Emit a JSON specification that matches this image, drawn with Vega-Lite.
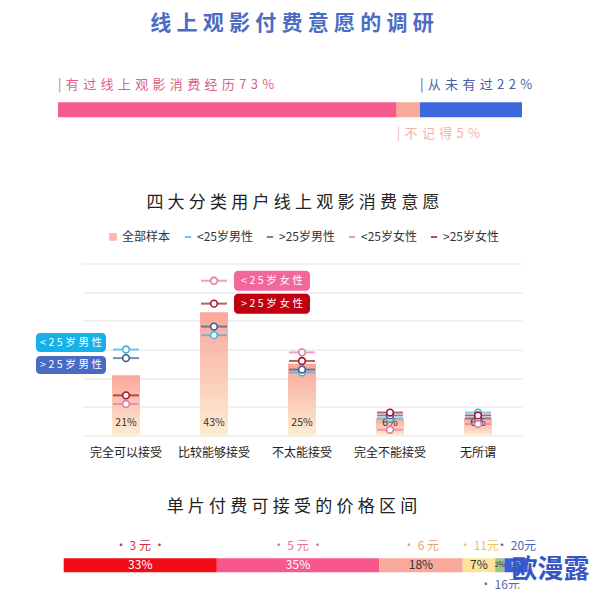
{
  "$schema": "https://vega.github.io/schema/vega-lite/v6.json",
  "padding": {"left": 5, "right": 5, "top": 12, "bottom": 0},
  "background": "white",
  "config": {"view": {"stroke": null}, "font": "Noto Sans CJK SC"},
  "datasets": {
    "top": [
      {"name": "有过线上观影消费经历", "pct": 73, "order": 1},
      {"name": "不记得", "pct": 5, "order": 2},
      {"name": "从未有过", "pct": 22, "order": 3}
    ],
    "bars": [
      {"cat": "完全可以接受", "pct": 21},
      {"cat": "比较能够接受", "pct": 43},
      {"cat": "不太能接受", "pct": 25},
      {"cat": "完全不能接受", "pct": 6},
      {"cat": "无所谓", "pct": 6}
    ],
    "markers": [
      {"cat": "完全可以接受", "series": "<25岁男性", "pct": 30},
      {"cat": "完全可以接受", "series": ">25岁男性", "pct": 27},
      {"cat": "完全可以接受", "series": "<25岁女性", "pct": 11},
      {"cat": "完全可以接受", "series": ">25岁女性", "pct": 14},
      {"cat": "比较能够接受", "series": "<25岁男性", "pct": 35},
      {"cat": "比较能够接受", "series": ">25岁男性", "pct": 38},
      {"cat": "比较能够接受", "series": "<25岁女性", "pct": 54},
      {"cat": "比较能够接受", "series": ">25岁女性", "pct": 46},
      {"cat": "不太能接受", "series": "<25岁男性", "pct": 22},
      {"cat": "不太能接受", "series": ">25岁男性", "pct": 23},
      {"cat": "不太能接受", "series": "<25岁女性", "pct": 29},
      {"cat": "不太能接受", "series": ">25岁女性", "pct": 26},
      {"cat": "完全不能接受", "series": "<25岁男性", "pct": 6},
      {"cat": "完全不能接受", "series": ">25岁男性", "pct": 7},
      {"cat": "完全不能接受", "series": "<25岁女性", "pct": 2},
      {"cat": "完全不能接受", "series": ">25岁女性", "pct": 8},
      {"cat": "无所谓", "series": "<25岁男性", "pct": 8},
      {"cat": "无所谓", "series": ">25岁男性", "pct": 6},
      {"cat": "无所谓", "series": "<25岁女性", "pct": 4},
      {"cat": "无所谓", "series": ">25岁女性", "pct": 7}
    ],
    "price": [
      {"price": "3元", "pct": 33, "order": 1},
      {"price": "5元", "pct": 35, "order": 2},
      {"price": "6元", "pct": 18, "order": 3},
      {"price": "11元", "pct": 7, "order": 4},
      {"price": "16元", "pct": 2, "order": 5},
      {"price": "20元", "pct": 5, "order": 6}
    ],
    "mark": [{"wm": "欧漫露"}]
  },
  "bounds": "flush",
  "spacing": 100.5,
  "resolve": {
    "scale": {"color": "independent", "shape": "independent"},
    "legend": {"color": "independent", "shape": "independent"}
  },
  "vconcat": [
    {
      "width": 584,
      "height": 89.5,
      "title": {"text": "线\u2005上\u2005观\u2005影\u2005付\u2005费\u2005意\u2005愿\u2005的\u2005调\u2005研", "fontSize": 21, "fontWeight": "bold", "color": "#4a6cc2", "anchor": "middle", "offset": 39.5, "dx": -5},
      "data": {"name": "top"},
      "transform": [
        {"stack": "pct", "groupby": [], "sort": [{"field": "order", "order": "ascending"}], "as": ["start", "end"]},
        {"calculate": "'|' + replace(datum.name + datum.pct + '%', regexp('(.)', 'g'), '\u2004$1')", "as": "label"},
        {"calculate": "datum.pct < 10 ? 'below' : 'above'", "as": "row"}
      ],
      "encoding": {
        "y": {"field": "row", "type": "nominal", "scale": {"domain": ["above", "bar", "below"], "paddingInner": 0, "paddingOuter": 0.3265, "align": 0}, "axis": null}
      },
      "layer": [
        {
          "mark": {"type": "bar", "height": 15},
          "encoding": {
            "x": {"field": "start", "type": "quantitative", "scale": {"domain": [0, 100], "range": [53, 517], "nice": false, "zero": false}, "axis": null},
            "x2": {"field": "end"},
            "y": {"datum": "bar", "type": "nominal"},
            "color": {"field": "name", "type": "nominal", "scale": {"domain": ["有过线上观影消费经历", "不记得", "从未有过"], "range": ["#f75b8c", "#f9aa9b", "#3f68df"]}, "legend": null}
          }
        },
        {
          "mark": {"type": "text", "align": "left", "baseline": "middle", "fontSize": 13},
          "encoding": {
            "x": {"field": "start", "type": "quantitative"},
            "text": {"field": "label"},
            "color": {"field": "name", "type": "nominal", "scale": {"domain": ["有过线上观影消费经历", "不记得", "从未有过"], "range": ["#dc5f8b", "#f1b3aa", "#4b5c9f"]}, "legend": null}
          }
        }
      ],
      "resolve": {"scale": {"color": "independent"}}
    },
    {
      "width": 584,
      "height": 172,
      "title": {"text": "四\u2005大\u2005分\u2005类\u2005用\u2005户\u2005线\u2005上\u2005观\u2005影\u2005消\u2005费\u2005意\u2005愿", "fontSize": 17, "fontWeight": "normal", "color": "#222222", "anchor": "middle", "offset": 19, "dx": -4},
      "encoding": {
        "x": {"field": "cat", "type": "nominal", "sort": null,
          "scale": {"domain": ["完全可以接受", "比较能够接受", "不太能接受", "完全不能接受", "无所谓"], "range": [77, 517], "paddingInner": 0, "paddingOuter": 0},
          "axis": {"title": null, "ticks": false, "domain": false, "labelAngle": 0, "labelFontSize": 12, "labelColor": "#222222", "labelPadding": 12}},
        "y": {"field": "pct", "type": "quantitative", "scale": {"domain": [0, 60], "nice": false},
          "axis": {"title": null, "values": [0, 10, 20, 30, 40, 50, 60], "labels": false, "ticks": false, "domain": false, "grid": true, "gridColor": "#e3e3e3"}}
      },
      "layer": [
        {
          "data": {"name": "bars"},
          "mark": {"type": "bar", "width": 28, "color": {"gradient": "linear", "x1": 0, "y1": 0, "x2": 0, "y2": 1, "stops": [{"offset": 0, "color": "#f9a79b"}, {"offset": 1, "color": "#fdedd2"}]}}
        },
        {
          "data": {"name": "bars"},
          "transform": [{"calculate": "datum.pct + '%'", "as": "lab"}],
          "mark": {"type": "text", "baseline": "middle", "dy": -13, "fontSize": 10.5, "color": "#333333"},
          "encoding": {"y": {"datum": 0}, "text": {"field": "lab"}}
        },
        {
          "data": {"name": "markers"},
          "mark": {"type": "tick", "orient": "horizontal", "size": 26, "thickness": 2},
          "encoding": {"color": {"field": "series", "type": "nominal",
            "scale": {"domain": ["全部样本", "<25岁男性", ">25岁男性", "<25岁女性", ">25岁女性"], "range": ["#f9bba8", "#3db4dc", "#3e5c8e", "#e27ba2", "#a51426"]},
            "legend": {"title": null, "orient": "none", "legendX": 102, "legendY": -33, "direction": "horizontal", "columns": 5, "labelFontSize": 12, "labelColor": "#333333", "symbolSize": 40, "columnPadding": 10, "labelOffset": 3, "symbolStrokeWidth": 1.5, "symbolOpacity": 1, "symbolFillColor": "#f9c2ae"}}}
        },
        {
          "data": {"name": "markers"},
          "mark": {"type": "point", "shape": "circle", "filled": false, "fill": "white", "size": 45, "strokeWidth": 1.6, "opacity": 1},
          "encoding": {"color": {"field": "series", "type": "nominal",
            "legend": {"title": null, "orient": "none", "legendX": 102, "legendY": -33, "direction": "horizontal", "columns": 5, "labelFontSize": 12, "labelColor": "#333333", "symbolSize": 40, "columnPadding": 10, "labelOffset": 3, "symbolStrokeWidth": 1.5, "symbolOpacity": 1, "symbolFillColor": "#f9c2ae"}}}
        },
        {
          "data": {"name": "markers"},
          "mark": {"type": "point", "filled": false, "opacity": 0},
          "encoding": {
            "color": {"field": "series", "type": "nominal",
              "legend": {"title": null, "orient": "none", "legendX": 102, "legendY": -33, "direction": "horizontal", "columns": 5, "labelFontSize": 12, "labelColor": "#333333", "symbolSize": 40, "columnPadding": 10, "labelOffset": 3, "symbolStrokeWidth": 1.5, "symbolOpacity": 1, "symbolFillColor": "#f9c2ae"}},
            "shape": {"field": "series", "type": "nominal",
              "scale": {"domain": ["全部样本", "<25岁男性", ">25岁男性", "<25岁女性", ">25岁女性"], "range": ["square", "stroke", "stroke", "stroke", "stroke"]},
              "legend": {"title": null, "orient": "none", "legendX": 102, "legendY": -33, "direction": "horizontal", "columns": 5, "labelFontSize": 12, "labelColor": "#333333", "symbolSize": 40, "columnPadding": 10, "labelOffset": 3, "symbolStrokeWidth": 1.5, "symbolOpacity": 1, "symbolFillColor": "#f9c2ae"}}
          }
        },
        {
          "data": {"name": "markers"},
          "transform": [
            {"filter": "datum.cat == '完全可以接受' && datum.series == '<25岁男性'"},
            {"calculate": "replace(datum.series, regexp('(.)(?!$)', 'g'), '$1\u2005')", "as": "lab"}
          ],
          "layer": [
            {"mark": {"type": "rect", "width": 70, "height": 19, "cornerRadius": 4, "xOffset": -55, "yOffset": -7, "color": "#17b1ea"}},
            {"mark": {"type": "text", "xOffset": -55, "yOffset": -7, "color": "white", "fontSize": 10.5, "baseline": "middle"}, "encoding": {"text": {"field": "lab"}}}
          ]
        },
        {
          "data": {"name": "markers"},
          "transform": [
            {"filter": "datum.cat == '完全可以接受' && datum.series == '>25岁男性'"},
            {"calculate": "replace(datum.series, regexp('(.)(?!$)', 'g'), '$1\u2005')", "as": "lab"}
          ],
          "layer": [
            {"mark": {"type": "rect", "width": 70, "height": 18, "cornerRadius": 4, "xOffset": -55, "yOffset": 7, "color": "#4a6bc3"}},
            {"mark": {"type": "text", "xOffset": -55, "yOffset": 7, "color": "white", "fontSize": 10.5, "baseline": "middle"}, "encoding": {"text": {"field": "lab"}}}
          ]
        },
        {
          "data": {"name": "markers"},
          "transform": [
            {"filter": "datum.cat == '比较能够接受' && (datum.series == '<25岁女性' || datum.series == '>25岁女性')"},
            {"calculate": "replace(datum.series, regexp('(.)(?!$)', 'g'), '$1\u2005')", "as": "lab"}
          ],
          "layer": [
            {"mark": {"type": "rect", "width": 76, "height": 20, "cornerRadius": 4, "xOffset": 58},
             "encoding": {"color": {"condition": {"test": "datum.series == '<25岁女性'", "value": "#f2689c"}, "value": "#c0000f"}}},
            {"mark": {"type": "text", "xOffset": 58, "color": "white", "fontSize": 10.5, "baseline": "middle"}, "encoding": {"text": {"field": "lab"}}}
          ]
        }
      ]
    },
    {
      "width": 584,
      "height": 58.5,
      "title": {"text": "单\u2005片\u2005付\u2005费\u2005可\u2005接\u2005受\u2005的\u2005价\u2005格\u2005区\u2005间", "fontSize": 17, "fontWeight": "normal", "color": "#222222", "anchor": "middle", "offset": 20, "dx": -5},
      "encoding": {
        "y": {"field": "row", "type": "nominal", "scale": {"domain": ["above", "bar", "below"], "paddingInner": 0, "paddingOuter": 0}, "axis": null}
      },
      "layer": [
        {
          "data": {"name": "price"},
          "transform": [
            {"stack": "pct", "groupby": [], "sort": [{"field": "order", "order": "ascending"}], "as": ["start", "end"]},
            {"calculate": "(datum.start + datum.end) / 2", "as": "mid"},
            {"calculate": "datum.pct + '%'", "as": "plab"},
            {"calculate": "'• ' + (datum.pct >= 10 ? replace(datum.price, regexp('(.)(?!$)', 'g'), '$1 ') : datum.price) + (datum.pct >= 30 ? ' •' : '')", "as": "label"},
            {"calculate": "datum.pct < 3 ? 'below' : 'above'", "as": "row"}
          ],
          "layer": [
            {
              "mark": {"type": "bar", "height": 14},
              "encoding": {
                "x": {"field": "start", "type": "quantitative", "scale": {"domain": [0, 100], "range": [58.7, 522.7], "nice": false, "zero": false}, "axis": null},
                "x2": {"field": "end"},
                "y": {"datum": "bar", "type": "nominal"},
                "color": {"field": "price", "type": "nominal", "sort": null, "scale": {"domain": ["3元", "5元", "6元", "11元", "16元", "20元"], "range": ["#ef0c14", "#f7578b", "#f9a99b", "#fce29a", "#9cc58a", "#3a5dd6"]}, "legend": null}
              }
            },
            {
              "mark": {"type": "text", "baseline": "middle"},
              "encoding": {
                "x": {"field": "mid", "type": "quantitative"},
                "y": {"datum": "bar", "type": "nominal"},
                "text": {"field": "plab"},
                "size": {"condition": {"test": "datum.pct < 6", "value": 7}, "value": 12},
                "color": {"condition": {"test": "datum.pct >= 30 || datum.price == '20元'", "value": "white"}, "value": "#333333"}
              }
            },
            {
              "mark": {"type": "text", "baseline": "middle", "fontSize": 12},
              "encoding": {
                "x": {"field": "mid", "type": "quantitative"},
                "text": {"field": "label"},
                "color": {"field": "price", "type": "nominal", "scale": {"domain": ["3元", "5元", "6元", "11元", "16元", "20元"], "range": ["#c9303f", "#e0719a", "#e3a374", "#e8c55a", "#5a6a9a", "#4a66b5"]}, "legend": null}
              }
            }
          ],
          "resolve": {"scale": {"color": "independent"}}
        },
        {
          "data": {"name": "mark"},
          "mark": {"type": "text", "align": "left", "baseline": "middle", "fontSize": 26, "fontWeight": "bold", "color": "#3656c8", "dy": 5},
          "encoding": {
            "x": {"datum": 96.5, "type": "quantitative"},
            "y": {"datum": "bar", "type": "nominal"},
            "text": {"field": "wm"}
          }
        }
      ]
    }
  ]
}
